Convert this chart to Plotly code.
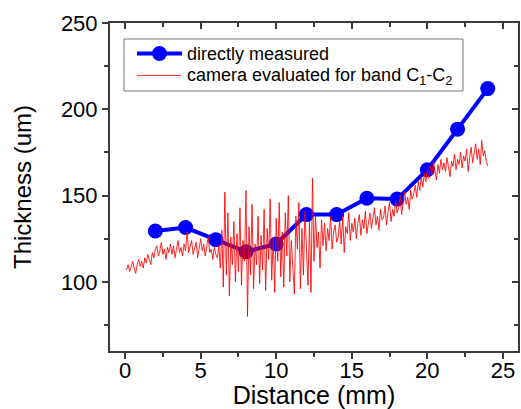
import numpy as np
import plotly.graph_objects as go

# ---- data ----
measured_x = [2, 4, 6, 8, 10, 12, 14, 16, 18, 20, 22, 24]
measured_y = [129.5, 131.5, 124.5, 117.5, 122, 139, 139, 148.5, 148, 165, 188.5, 212]

camera_start = 0.1
camera_step = 0.1
camera_y = [
    107, 110, 106, 109, 112, 108, 105, 110, 113, 109,
    112, 108, 114, 111, 116, 113, 110, 117, 114, 119,
    121, 115, 118, 123, 116, 119, 113, 120, 117, 122,
    116, 121, 114, 119, 124, 117, 120, 115, 122, 118,
    129, 117, 121, 124, 116, 120, 123, 114, 119, 125,
    118, 122, 115, 121, 126, 117, 119, 113, 120, 116,
    114, 121, 108, 130, 97, 152, 104, 140, 92, 126,
    110, 135, 100, 128, 106, 143, 98, 124, 112, 153,
    80, 132, 104, 145, 96, 122, 110, 138, 99, 127,
    107, 142, 95, 131, 113, 148, 101, 126, 94, 137,
    112, 146, 103, 129, 97, 140, 115, 150, 100, 124,
    108, 93, 138, 119, 146, 96, 131, 104, 141, 115,
    98, 135, 94, 160, 112, 138, 120, 129, 108, 136,
    121, 134, 118, 131, 124, 138, 119, 129, 133, 123,
    126, 135, 122, 138, 117, 132, 128, 140, 124, 134,
    129, 137, 125, 134, 139, 127, 136, 131, 141, 128,
    134, 140, 131, 137, 143, 133, 138, 130, 142, 136,
    137, 144, 133, 141, 146, 135, 142, 138, 147, 140,
    143, 150, 139, 147, 152, 145, 149, 142, 153, 148,
    151, 156, 149, 158, 153, 161, 155, 163, 158, 165,
    160, 167, 162, 170, 164, 159, 168, 163, 171, 165,
    169, 164, 172, 166, 161, 170, 167, 174, 165, 171,
    168, 175, 166, 173, 170, 177, 164, 172, 178, 169,
    174, 180, 171, 177, 168, 182, 173, 176, 170, 167,
]
camera_x = np.round(camera_start + camera_step * np.arange(len(camera_y)), 2)

x_ticks = [0, 5, 10, 15, 20, 25]
y_ticks = [100, 150, 200, 250]

legend_labels = ["directly measured", "camera evaluated for band C<sub>1</sub>-C<sub>2</sub>"]

FONT = "Liberation Sans, Arial, sans-serif"
AX = "#3a3a3a"
BLUE = "#0000ff"
RED = "rgba(255,0,0,0.85)"

W, H = 521, 409
ML, MR, MT, MB = 110, 3, 23, 58
PW, PH = W - ML - MR, H - MT - MB


def px(xp):
    return (xp - ML) / PW


def py(yp):
    return 1 - (yp - MT) / PH


fig = go.Figure()
fig.add_trace(go.Scatter(
    x=measured_x, y=measured_y, mode="lines+markers",
    name=legend_labels[0],
    line=dict(color=BLUE, width=4),
    marker=dict(color=BLUE, size=15),
))
fig.add_trace(go.Scatter(
    x=camera_x, y=camera_y, mode="lines",
    name=legend_labels[1],
    line=dict(color=RED, width=1),
))
# dummy trace for mirrored inside-tick axes
fig.add_trace(go.Scatter(x=[], y=[], xaxis="x2", yaxis="y2", showlegend=False))

# ---- hand-built legend (to match the compact row spacing) ----
row1, row2 = 53.5, 75.5
shapes = [
    dict(type="rect", xref="paper", yref="paper", x0=px(124), x1=px(463), y0=py(91), y1=py(39),
         line=dict(color="#777777", width=1), fillcolor="white", layer="above"),
    dict(type="line", xref="paper", yref="paper", x0=px(137), x1=px(182), y0=py(row1), y1=py(row1),
         line=dict(color=BLUE, width=4)),
    dict(type="circle", xref="paper", yref="paper", x0=px(159.5 - 7.5), x1=px(159.5 + 7.5),
         y0=py(row1 + 7.5), y1=py(row1 - 7.5), line=dict(color=BLUE, width=0), fillcolor=BLUE),
    dict(type="line", xref="paper", yref="paper", x0=px(137), x1=px(181), y0=py(row2), y1=py(row2),
         line=dict(color="#ff3030", width=1)),
]
annotations = [
    dict(text=legend_labels[0], xref="paper", yref="paper", x=px(185), y=py(row1),
         xanchor="left", yanchor="middle", showarrow=False, font=dict(size=18)),
    dict(text=legend_labels[1], xref="paper", yref="paper", x=px(185), y=py(row2 + 1),
         xanchor="left", yanchor="middle", showarrow=False, font=dict(size=18)),
]

fig.update_layout(
    width=W, height=H,
    margin=dict(l=ML, r=MR, t=MT, b=MB),
    paper_bgcolor="white", plot_bgcolor="white",
    font=dict(family=FONT, color="black"),
    showlegend=False,
    shapes=shapes, annotations=annotations,
    xaxis=dict(
        range=[-1, 26], tickvals=x_ticks, ticks="outside", ticklen=6, tickwidth=1.5,
        tickcolor=AX, showline=True, linecolor=AX, linewidth=2, showgrid=False,
        zeroline=False, tickfont=dict(size=22), ticklabelstandoff=-7,
        title=dict(text="Distance (mm)", font=dict(size=25), standoff=4),
        minor=dict(ticks="outside", ticklen=4, tickwidth=1.5, tickcolor=AX,
                   tick0=0, dtick=2.5, showgrid=False),
    ),
    yaxis=dict(
        range=[60, 250], tickvals=y_ticks, ticks="outside", ticklen=6, tickwidth=1.5,
        tickcolor=AX, showline=True, linecolor=AX, linewidth=2, showgrid=False,
        zeroline=False, tickfont=dict(size=22),
        title=dict(text="Thickness (um)", font=dict(size=24), standoff=22),
        minor=dict(ticks="outside", ticklen=4, tickwidth=1.5, tickcolor=AX,
                   tick0=0, dtick=25, showgrid=False),
    ),
    xaxis2=dict(
        overlaying="x", side="top", anchor="y2", range=[-1, 26], tickvals=x_ticks,
        ticks="inside", ticklen=6, tickwidth=1.5, tickcolor=AX, showticklabels=False,
        showline=True, linecolor=AX, linewidth=2, showgrid=False, zeroline=False,
        minor=dict(ticks="inside", ticklen=4, tickwidth=1.5, tickcolor=AX,
                   tick0=0, dtick=2.5, showgrid=False),
    ),
    yaxis2=dict(
        overlaying="y", side="right", anchor="x2", range=[60, 250], tickvals=y_ticks,
        ticks="inside", ticklen=6, tickwidth=1.5, tickcolor=AX, showticklabels=False,
        showline=True, linecolor=AX, linewidth=2, showgrid=False, zeroline=False,
        minor=dict(ticks="inside", ticklen=4, tickwidth=1.5, tickcolor=AX,
                   tick0=0, dtick=25, showgrid=False),
    ),
)

fig.write_html("out.html")
